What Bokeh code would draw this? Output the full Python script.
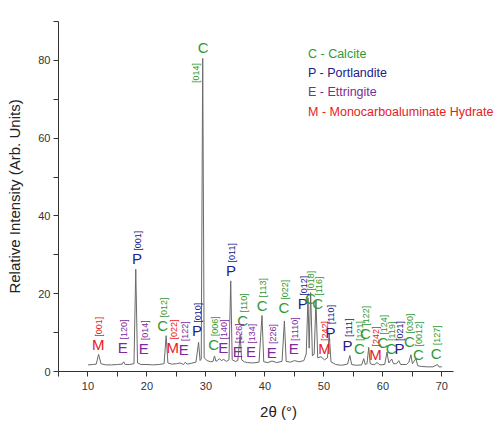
import math
from bokeh.plotting import figure
from bokeh.models import ColumnDataSource, FixedTicker, Label
from bokeh.core.properties import value
from bokeh.embed import file_html
from bokeh.resources import INLINE

# ---- XRD trace (2theta in degrees, relative intensity) ----
two_theta = [10.0, 10.8, 11.4, 11.8, 12.2, 13.0, 14.0, 15.0, 15.8, 16.05, 16.3, 17.0,
             17.8, 18.1, 18.4, 19.0, 20.0, 21.0, 22.0, 22.9, 23.25, 23.55, 24.2, 25.0,
             25.6, 26.2, 26.5, 26.8, 27.5, 28.3, 28.75, 29.0, 29.2, 29.45, 29.7, 30.2,
             30.8, 31.2, 31.45, 31.7, 32.0, 32.3, 32.6, 33.0, 33.5, 33.9, 34.2, 34.45,
             35.0, 35.4, 35.8, 36.05, 36.5, 37.0, 38.0, 39.0, 39.5, 39.8, 40.5, 41.2,
             42.0, 42.9, 43.3, 43.6, 44.3, 45.0, 45.8, 46.6, 47.0, 47.3, 47.5, 47.75,
             48.05, 48.35, 48.65, 48.95, 49.5, 50.1, 50.6, 50.9, 51.2, 52.0, 53.0, 54.0,
             54.4, 54.7, 55.5, 56.4, 56.75, 57.0, 57.3, 57.6, 57.85, 58.5, 59.0, 59.5,
             60.3, 60.7, 61.0, 61.5, 61.8, 62.3, 62.7, 63.0, 64.0, 64.4, 64.75, 65.0,
             65.6, 65.9, 66.5, 67.5, 68.5, 69.25, 69.5, 70.0]
intensity = [1.7, 1.8, 1.9, 4.4, 2.0, 1.7, 1.7, 1.8, 1.9, 2.5, 1.8, 1.8,
             2.0, 26.3, 2.2, 1.8, 1.8, 1.7, 1.8, 2.0, 9.2, 2.2, 1.9, 2.0,
             2.2, 1.8, 2.4, 1.9, 2.1, 2.4, 7.5, 2.8, 3.2, 80.5, 3.5, 2.8,
             2.5, 2.6, 4.0, 2.6, 2.9, 3.3, 2.8, 3.1, 2.6, 3.0, 23.3, 3.0,
             2.6, 2.8, 9.5, 3.0, 2.5, 2.3, 2.2, 2.4, 14.4, 2.5, 2.3, 2.7,
             2.3, 2.6, 13.0, 2.6, 2.4, 2.8, 2.5, 2.8, 4.5, 19.0, 6.0, 20.3,
             4.0, 4.5, 18.2, 3.5, 3.8, 3.0, 3.5, 9.7, 2.5, 1.8, 1.6, 1.9,
             4.1, 1.8, 1.6, 1.7, 3.3, 1.8, 2.0, 6.2, 2.0, 1.7, 2.3, 1.7,
             1.8, 5.0, 2.2, 3.2, 2.0, 2.0, 2.8, 1.8, 1.8, 2.4, 4.3, 2.0,
             3.3, 1.5, 1.3, 1.2, 1.2, 1.8, 1.2, 1.2]

# ---- peak annotations ----
label_phase = ["M", "E", "P", "E", "C", "M", "E", "P", "C", "C", "E", "P", "E", "C", "E",
               "C", "E", "C", "E", "P", "C", "C", "M", "P", "P", "C", "C", "M", "C", "C",
               "P", "C", "C", "C"]
label_index = ["[001]", "[120]", "[001]", "[014]", "[012]", "[022]", "[122]", "[010]",
               "[014]", "[006]", "[140]", "[011]", "[126]", "[110]", "[134]", "[113]",
               "[226]", "[022]", "[1110]", "[012]", "[018]", "[116]", "[242]", "[110]",
               "[111]", "[121]", "[122]", "[242]", "[124]", "[119]", "[021]", "[030]",
               "[0012]", "[127]"]
label_x = [11.75, 15.89, 18.31, 19.45, 22.67, 24.37, 26.23, 28.49, 29.51, 31.3, 32.95,
           34.26, 35.39, 36.24, 37.65, 39.52, 41.16, 43.2, 44.9, 46.42, 47.71, 48.96,
           50.09, 51.1, 54.0, 56.02, 57.04, 58.74, 59.99, 61.4, 62.81, 64.5, 66.03, 69.03]
label_y = [6.9, 6.2, 29.0, 6.0, 11.8, 6.2, 5.7, 10.5, 83.2, 7.0, 6.2, 26.0, 5.2, 13.1,
           5.1, 17.0, 5.0, 16.4, 5.8, 17.4, 18.7, 17.4, 5.8, 10.1, 6.8, 5.8, 9.7, 4.4,
           7.4, 5.8, 5.8, 7.7, 4.4, 4.7]

legend_codes = ["C", "P", "E", "M"]
legend_names = ["Calcite", "Portlandite", "Ettringite", "Monocarboaluminate Hydrate"]

phase_colors = {"C": "#2f9a35", "P": "#20208a", "E": "#7e2a9e", "M": "#e6201e"}

FONT = "Liberation Sans"

# frame runs to the right edge so the legend text is not clipped;
# the x axis line itself is bounded to 5..72 like the reference
p = figure(width=498, height=425, x_range=(5, 79.6), y_range=(0, 90),
           output_backend="svg", toolbar_location=None,
           min_border_left=58, min_border_right=0, min_border_top=21, min_border_bottom=54)
p.outline_line_color = None
p.xgrid.visible = False
p.ygrid.visible = False
p.background_fill_color = "white"

p.line(two_theta, intensity, line_color="#6a6a6a", line_width=1)

cols = [phase_colors[c] for c in label_phase]
idx_dx = [1.0] * len(label_phase)
idx_dy = [-8.0] * len(label_phase)
# the main calcite [014] index sits to the left, below the letter
idx_dx[8] = -7.0
idx_dy[8] = 35.0

src = ColumnDataSource(dict(x=label_x, y=label_y, letter=label_phase, idx=label_index,
                            color=cols, dx=idx_dx, dy=idx_dy))
p.text(x="x", y="y", text="letter", source=src, text_color="color",
       text_font=value(FONT), text_font_size="15px",
       text_align="center", text_baseline="middle")
p.text(x="x", y="y", text="idx", source=src, text_color="color",
       text_font=value(FONT), text_font_size="9px", angle=math.pi / 2,
       x_offset="dx", y_offset="dy",
       text_align="left", text_baseline="middle")

# legend block (text only)
leg_y = [81.6, 76.7, 71.8, 66.7]
for code, name, yy in zip(legend_codes, legend_names, leg_y):
    p.add_layout(Label(x=47.3, y=yy, text=f"{code} - {name}",
                       text_color=phase_colors[code], text_font=FONT,
                       text_font_size="12.5px", text_baseline="middle"))

for ax in (p.xaxis[0], p.yaxis[0]):
    ax.axis_line_color = "#333333"
    ax.major_tick_line_color = "#333333"
    ax.minor_tick_line_color = "#333333"
    ax.major_tick_in = 0
    ax.major_tick_out = 5
    ax.minor_tick_in = 0
    ax.minor_tick_out = 5
    ax.major_label_text_font = FONT
    ax.major_label_text_font_size = "11px"
    ax.major_label_text_color = "#333333"
    ax.axis_label_text_font = FONT
    ax.axis_label_text_font_size = "15px"
    ax.axis_label_text_font_style = "normal"
    ax.axis_label_text_color = "#222222"

p.xaxis.bounds = (5, 72)
p.xaxis.ticker = FixedTicker(ticks=[10, 20, 30, 40, 50, 60, 70],
                             minor_ticks=[5, 15, 25, 35, 45, 55, 65])
p.yaxis.ticker = FixedTicker(ticks=[0, 20, 40, 60, 80], minor_ticks=[10, 30, 50, 70, 90])
p.xaxis.axis_label = "2θ (°)"
p.yaxis.axis_label = "Relative Intensity (Arb. Units)"
p.xaxis.major_label_standoff = 5
p.yaxis.major_label_standoff = 3
p.xaxis.axis_label_standoff = 10
p.yaxis.axis_label_standoff = 12

open("out.html", "w").write(file_html(p, INLINE))
